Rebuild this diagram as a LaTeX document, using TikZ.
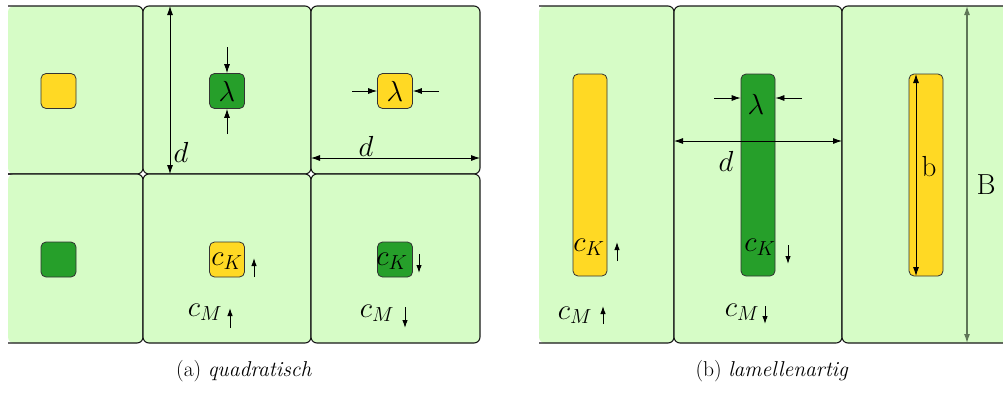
\RequirePackage{fix-cm}
\documentclass[tikz,border=0pt]{standalone}
\usetikzlibrary{arrows.meta}
\definecolor{cellg}{RGB}{214,252,198}
\definecolor{yel}{RGB}{255,217,36}
\definecolor{dgr}{RGB}{38,159,42}
\definecolor{bgr}{RGB}{95,118,88}
\begin{document}
\begin{tikzpicture}[x=1pt,y=-1pt,
  border/.style={draw=black!90,line width=1.1pt,rounded corners=6pt},
  cellbox/.style={fill=cellg,border},
  yb/.style={draw=black!80,fill=yel,rounded corners=5pt,line width=0.8pt,minimum width=35pt,minimum height=35pt,inner sep=0pt},
  gb/.style={yb,fill=dgr},
  lamy/.style={yb,minimum width=34pt,minimum height=202pt},
  lamg/.style={lamy,fill=dgr},
  dim/.style={{Latex[length=9pt,width=6pt]}-{Latex[length=9pt,width=6pt]},line width=0.8pt},
  ptr/.style={-{Latex[length=9pt,width=6pt]},line width=0.8pt},
  flow/.style={-{Latex[length=8pt,width=5.5pt]},line width=1pt},
  lbl/.style={font=\fontsize{29}{30}\selectfont,inner sep=0pt},
  captxt/.style={font=\fontsize{21.5}{25}\selectfont,inner sep=0pt}
]
\useasboundingbox (0,0) rectangle (1003,392);
\begin{scope}
\clip (0,0) rectangle (1003,392);
% ---------- panel (a) cells ----------
\fill[cellg,rounded corners=6pt] (8,6) rectangle (143,174);
\draw[border] (8,6) -- (143,6) -- (143,174) -- (8,174);
\fill[cellg,rounded corners=6pt] (8,174) rectangle (143,343);
\draw[border] (8,174) -- (143,174) -- (143,343) -- (8,343);
\draw[cellbox] (143,6) rectangle (311,174);
\draw[cellbox] (311,6) rectangle (480,174);
\draw[cellbox] (143,174) rectangle (311,343);
\draw[cellbox] (311,174) rectangle (480,343);
% ---------- panel (b) cells ----------
\fill[cellg,rounded corners=6pt] (539,6) rectangle (674,343);
\draw[border] (539,6) -- (674,6) -- (674,343) -- (539,343);
\draw[cellbox] (674,6) rectangle (842,343);
\fill[cellg,rounded corners=6pt] (842,6) rectangle (1020,343);
\draw[border] (1020,6) -- (842,6) -- (842,343) -- (1020,343);
\end{scope}

% ---------- panel (a) inner boxes ----------
\node[yb] (ya) at (58.5,91) {};
\node[gb,lbl] (gl) at (227,91) {$\lambda$};
\node[yb,lbl] (yl) at (395,91) {$\lambda$};
\node[gb] (ga) at (58.5,259.5) {};
\node[yb] (yk) at (227,259.5) {};
\node[gb] (gk) at (395,259.5) {};
\node[lbl] (ckA) at (227,261) {$c_K$};
\node[lbl] (ckB) at (392,261) {$c_K$};
\node[lbl] (cmA) at (205,312) {$c_M$};
\node[lbl] (cmB) at (377,313) {$c_M$};

% lambda arrows (a)
\coordinate (la1) at (227,47);
\coordinate (la2) at (227,134);
\draw[ptr] (la1) -- (gl.north);
\draw[ptr] (la2) -- (gl.south);
\coordinate (lb1) at (352,91);
\coordinate (lb2) at (439,91);
\draw[ptr] (lb1) -- (yl.west);
\draw[ptr] (lb2) -- (yl.east);

% d dimensions (a)
\coordinate (dv1) at (170,6);
\coordinate (dv2) at (170,174);
\draw[dim] (dv1) -- (dv2);
\node[lbl] (dA) at (181,152) {$d$};
\coordinate (dh1) at (311,158);
\coordinate (dh2) at (480,158);
\draw[dim] (dh1) -- (dh2);
\node[lbl] (dB) at (366,146) {$d$};

% flow arrows (a)
\coordinate (f1a) at (254,277); \coordinate (f1b) at (254,258);
\draw[flow] (f1a) -- (f1b);
\coordinate (f2a) at (419,254); \coordinate (f2b) at (419,273);
\draw[flow] (f2a) -- (f2b);
\coordinate (f3a) at (230,328); \coordinate (f3b) at (230,308);
\draw[flow] (f3a) -- (f3b);
\coordinate (f4a) at (405,307); \coordinate (f4b) at (405,328);
\draw[flow] (f4a) -- (f4b);

% ---------- panel (b) lamellae ----------
\node[lamy] (L1) at (590,175) {};
\node[lamg] (L2) at (758,175) {};
\node[lamy] (L3) at (926,175) {};
\node[lbl] (lamb) at (756,104) {$\lambda$};
\coordinate (lc1) at (714,98);
\coordinate (lc2) at (802,98);
\draw[ptr] (lc1) -- (lc1 -| L2.west);
\draw[ptr] (lc2) -- (lc2 -| L2.east);
\coordinate (dd1) at (674,141);
\coordinate (dd2) at (842,141);
\draw[dim] (dd1) -- (dd2);
\node[lbl] (dC) at (726,161) {$d$};
\coordinate (b1) at (916,74);
\coordinate (b2) at (916,276);
\draw[dim] (b1) -- (b2);
\node[lbl] (bl) at (929,167) {b};
\coordinate (B1) at (967,6);
\coordinate (B2) at (967,343);
\draw[dim,draw=bgr,fill=bgr,line width=1.2pt] (B1) -- (B2);
\node[lbl] (Bl) at (986,185) {B};

\node[lbl] (ckC) at (589,247) {$c_K$};
\node[lbl] (ckD) at (760,247) {$c_K$};
\node[lbl] (cmC) at (575,315) {$c_M$};
\node[lbl] (cmD) at (742,312) {$c_M$};
\coordinate (g1a) at (617,261); \coordinate (g1b) at (617,242);
\draw[flow] (g1a) -- (g1b);
\coordinate (g2a) at (788,245); \coordinate (g2b) at (788,264);
\draw[flow] (g2a) -- (g2b);
\coordinate (g3a) at (603,324); \coordinate (g3b) at (603,306);
\draw[flow] (g3a) -- (g3b);
\coordinate (g4a) at (765,306); \coordinate (g4b) at (765,324);
\draw[flow] (g4a) -- (g4b);

% captions
\node[captxt] (capa) at (244,371) {(a) \textit{quadratisch}};
\node[captxt] (capb) at (772,371) {(b) \textit{lamellenartig}};
\end{tikzpicture}
\end{document}
